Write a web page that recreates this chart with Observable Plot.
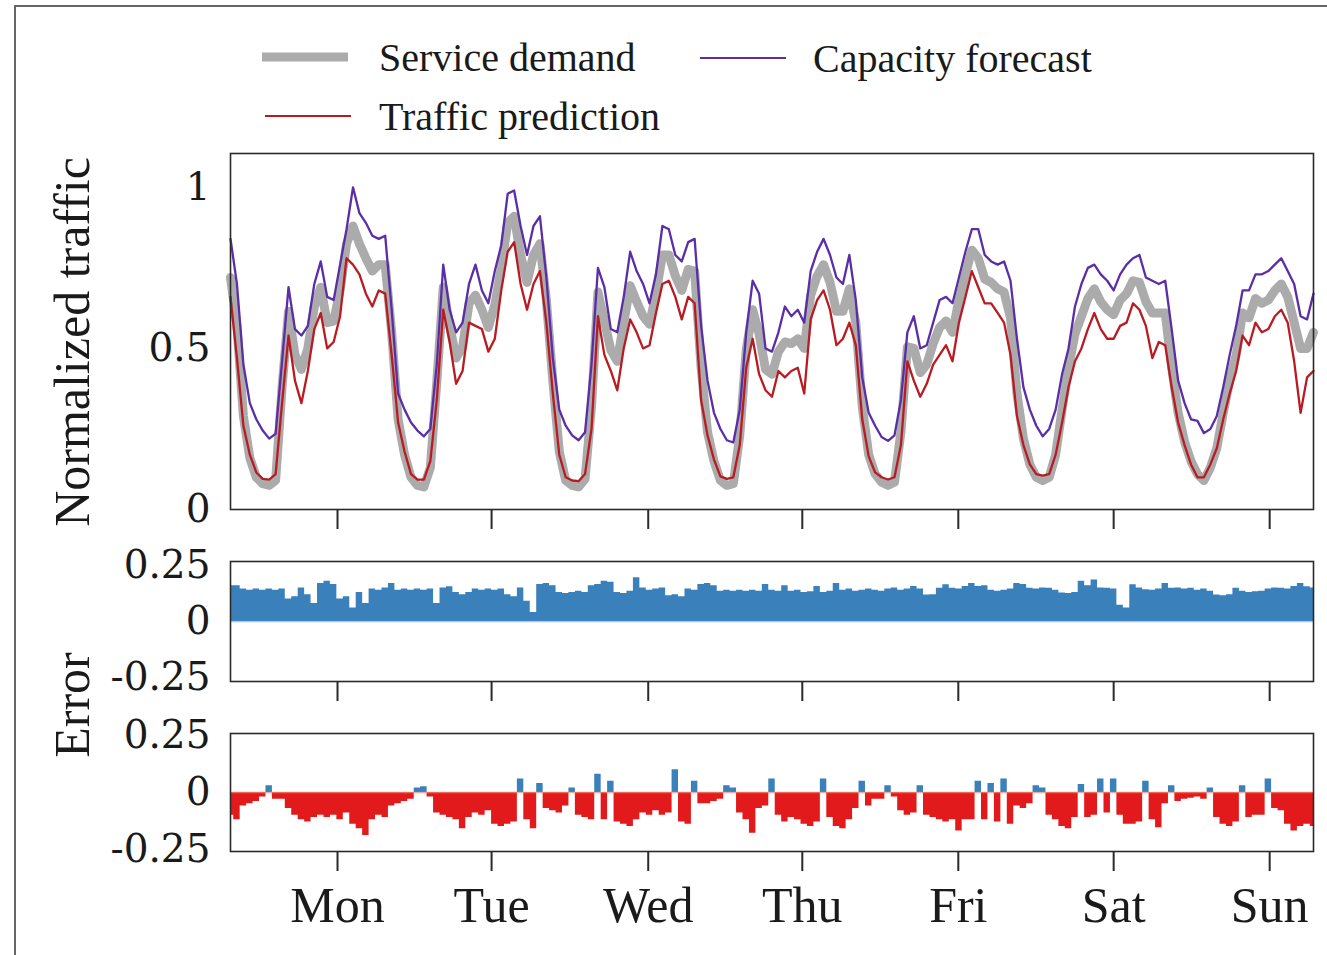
<!DOCTYPE html>
<html>
<head>
<meta charset="utf-8">
<script src="https://cdn.jsdelivr.net/npm/d3@7"></script>
<script src="https://cdn.jsdelivr.net/npm/@observablehq/plot@0.6"></script>
<style>
  html, body { margin: 0; padding: 0; background: #fff; }
  #fig { position: relative; width: 1327px; height: 955px; overflow: hidden; font-family: "Liberation Serif", serif; color: #1a1a1a; }
  #border { position: absolute; left: 14px; top: 5px; width: 1340px; height: 980px; border-top: 2px solid #666; border-left: 2px solid #666; }
  .panel { position: absolute; left: 0; }
  .ylab { position: absolute; left: 72px; font-size: 50px; white-space: nowrap; transform: translate(-50%, -50%) rotate(-90deg); }
</style>
</head>
<body>
<div id="fig">
  <div id="border"></div>
  <div id="legend" class="panel" style="top:0"></div>
  <div id="top" class="panel" style="top:143px"></div>
  <div id="mid" class="panel" style="top:551px"></div>
  <div id="bot" class="panel" style="top:723px"></div>
  <div class="ylab" style="top:342px">Normalized traffic</div>
  <div class="ylab" style="top:705px">Error</div>
</div>
<script>
// One week of hourly samples (hour 0 .. 168)
const hours = d3.range(0, 169);

// Day markers on the time axis (hour positions) and their names
const dayTicks = [16.6, 40.5, 64.8, 88.7, 112.9, 137.0, 161.2];
const dayNames = ["Mon", "Tue", "Wed", "Thu", "Fri", "Sat", "Sun"];

// Normalized service demand
const demand = [
  0.72, 0.57, 0.29, 0.16, 0.10, 0.08, 0.075, 0.09, 0.38, 0.615, 0.48, 0.435, 0.50, 0.63, 0.69, 0.58, 0.585, 0.68, 0.825, 0.88, 0.825, 0.78, 0.74, 0.76,
  0.76, 0.55, 0.28, 0.17, 0.10, 0.075, 0.07, 0.13, 0.395, 0.69, 0.57, 0.47, 0.505, 0.64, 0.665, 0.62, 0.565, 0.635, 0.75, 0.89, 0.91, 0.79, 0.705, 0.79,
  0.825, 0.65, 0.40, 0.18, 0.09, 0.075, 0.07, 0.095, 0.32, 0.675, 0.585, 0.495, 0.46, 0.58, 0.695, 0.645, 0.60, 0.575, 0.67, 0.79, 0.79, 0.725, 0.68, 0.745,
  0.74, 0.44, 0.24, 0.15, 0.09, 0.075, 0.08, 0.23, 0.495, 0.62, 0.545, 0.435, 0.42, 0.49, 0.52, 0.515, 0.53, 0.50, 0.665, 0.725, 0.76, 0.705, 0.615, 0.615,
  0.685, 0.58, 0.32, 0.17, 0.11, 0.085, 0.075, 0.085, 0.24, 0.505, 0.50, 0.425, 0.45, 0.515, 0.565, 0.585, 0.55, 0.65, 0.73, 0.805, 0.78, 0.715, 0.705, 0.685,
  0.675, 0.595, 0.36, 0.22, 0.14, 0.10, 0.09, 0.10, 0.17, 0.31, 0.44, 0.545, 0.60, 0.655, 0.685, 0.645, 0.62, 0.605, 0.65, 0.67, 0.71, 0.705, 0.645, 0.61,
  0.61, 0.61, 0.44, 0.30, 0.21, 0.15, 0.11, 0.09, 0.13, 0.19, 0.30, 0.40, 0.48, 0.61, 0.595, 0.655, 0.64, 0.65, 0.68, 0.70, 0.66, 0.58, 0.50, 0.50,
  0.55
];

// Capacity forecast
const capacity = [
  0.84, 0.70, 0.45, 0.33, 0.28, 0.245, 0.22, 0.235, 0.46, 0.69, 0.56, 0.54, 0.57, 0.70, 0.77, 0.66, 0.65, 0.76, 0.87, 1.00, 0.92, 0.89, 0.85, 0.84,
  0.85, 0.62, 0.36, 0.31, 0.27, 0.245, 0.227, 0.25, 0.45, 0.76, 0.62, 0.55, 0.58, 0.70, 0.76, 0.68, 0.64, 0.74, 0.82, 0.98, 0.99, 0.88, 0.79, 0.88,
  0.91, 0.72, 0.47, 0.31, 0.26, 0.23, 0.215, 0.24, 0.45, 0.75, 0.69, 0.56, 0.55, 0.66, 0.80, 0.74, 0.70, 0.64, 0.73, 0.88, 0.87, 0.79, 0.77, 0.83,
  0.84, 0.57, 0.40, 0.30, 0.25, 0.215, 0.208, 0.31, 0.55, 0.71, 0.67, 0.50, 0.49, 0.55, 0.63, 0.60, 0.62, 0.58, 0.74, 0.80, 0.84, 0.79, 0.72, 0.70,
  0.79, 0.65, 0.41, 0.30, 0.26, 0.225, 0.213, 0.23, 0.34, 0.55, 0.60, 0.50, 0.51, 0.58, 0.65, 0.66, 0.64, 0.72, 0.80, 0.87, 0.87, 0.79, 0.77, 0.76,
  0.77, 0.71, 0.53, 0.38, 0.31, 0.26, 0.227, 0.25, 0.31, 0.42, 0.50, 0.63, 0.70, 0.75, 0.76, 0.73, 0.71, 0.68, 0.73, 0.76, 0.78, 0.79, 0.72, 0.71,
  0.70, 0.71, 0.56, 0.40, 0.33, 0.28, 0.275, 0.237, 0.25, 0.29, 0.38, 0.48, 0.57, 0.68, 0.68, 0.73, 0.73, 0.74, 0.76, 0.78, 0.74, 0.70, 0.60, 0.59,
  0.67
];

// Traffic prediction
const prediction = [
  0.66, 0.47, 0.26, 0.17, 0.115, 0.095, 0.093, 0.11, 0.33, 0.54, 0.40, 0.33, 0.43, 0.56, 0.61, 0.50, 0.52, 0.60, 0.78, 0.76, 0.73, 0.67, 0.63, 0.68,
  0.67, 0.48, 0.27, 0.18, 0.11, 0.093, 0.093, 0.15, 0.34, 0.62, 0.52, 0.39, 0.43, 0.58, 0.57, 0.56, 0.49, 0.53, 0.68, 0.80, 0.83, 0.70, 0.62, 0.70,
  0.74, 0.58, 0.36, 0.17, 0.10, 0.09, 0.088, 0.11, 0.25, 0.60, 0.48, 0.43, 0.37, 0.50, 0.59, 0.55, 0.50, 0.51, 0.61, 0.70, 0.71, 0.66, 0.59, 0.66,
  0.64, 0.34, 0.23, 0.155, 0.103, 0.095, 0.10, 0.20, 0.44, 0.53, 0.42, 0.37, 0.35, 0.43, 0.41, 0.43, 0.44, 0.36, 0.59, 0.65, 0.68, 0.62, 0.51, 0.53,
  0.58, 0.51, 0.28, 0.165, 0.115, 0.10, 0.093, 0.10, 0.20, 0.46, 0.40, 0.35, 0.39, 0.45, 0.48, 0.51, 0.46, 0.58, 0.66, 0.74, 0.69, 0.64, 0.64, 0.61,
  0.58, 0.48, 0.29, 0.20, 0.14, 0.11, 0.105, 0.11, 0.17, 0.27, 0.38, 0.46, 0.50, 0.56, 0.61, 0.56, 0.53, 0.53, 0.57, 0.58, 0.64, 0.62, 0.57, 0.47,
  0.52, 0.51, 0.38, 0.27, 0.20, 0.14, 0.10, 0.10, 0.14, 0.19, 0.28, 0.36, 0.43, 0.54, 0.51, 0.58, 0.55, 0.56, 0.60, 0.62, 0.58, 0.46, 0.30, 0.41,
  0.43
];

// Error of the capacity forecast
const capacityError = [
  0.16, 0.16, 0.145, 0.14, 0.145, 0.14, 0.145, 0.14, 0.145, 0.10, 0.11, 0.15, 0.12, 0.08, 0.17, 0.18, 0.165, 0.10, 0.11, 0.06, 0.13, 0.08, 0.145, 0.14,
  0.15, 0.17, 0.14, 0.145, 0.14, 0.145, 0.14, 0.145, 0.08, 0.15, 0.155, 0.13, 0.12, 0.13, 0.145, 0.14, 0.145, 0.14, 0.145, 0.12, 0.11, 0.15, 0.09, 0.04,
  0.165, 0.17, 0.16, 0.13, 0.125, 0.13, 0.135, 0.13, 0.16, 0.165, 0.18, 0.175, 0.13, 0.125, 0.135, 0.195, 0.15, 0.14, 0.145, 0.15, 0.115, 0.12, 0.11, 0.145,
  0.14, 0.165, 0.17, 0.16, 0.135, 0.14, 0.135, 0.14, 0.135, 0.14, 0.135, 0.165, 0.14, 0.135, 0.16, 0.135, 0.14, 0.13, 0.133, 0.156, 0.13, 0.135, 0.17, 0.14,
  0.145, 0.135, 0.14, 0.145, 0.14, 0.135, 0.145, 0.15, 0.14, 0.145, 0.156, 0.145, 0.118, 0.12, 0.148, 0.164, 0.148, 0.145, 0.156, 0.17, 0.156, 0.16, 0.14, 0.135,
  0.14, 0.145, 0.17, 0.165, 0.148, 0.145, 0.15, 0.148, 0.14, 0.127, 0.125, 0.13, 0.18, 0.16, 0.185, 0.15, 0.148, 0.145, 0.073, 0.06, 0.164, 0.15, 0.142, 0.14,
  0.145, 0.17, 0.148, 0.15, 0.145, 0.148, 0.14, 0.145, 0.135, 0.118, 0.115, 0.12, 0.148, 0.135, 0.13, 0.133, 0.135, 0.145, 0.15, 0.148, 0.145, 0.156, 0.17, 0.155,
  0.15
];

// Error of the traffic prediction
const predictionError = [
  -0.10, -0.12, -0.06, -0.05, -0.04, -0.02, 0.03, -0.03, -0.03, -0.07, -0.10, -0.12, -0.13, -0.11, -0.10, -0.11, -0.10, -0.12, -0.09, -0.14, -0.16, -0.19, -0.12, -0.10,
  -0.11, -0.06, -0.05, -0.04, -0.03, 0.02, 0.025, -0.02, -0.09, -0.10, -0.11, -0.12, -0.16, -0.11, -0.09, -0.10, -0.08, -0.14, -0.15, -0.14, -0.13, 0.06, -0.12, -0.16,
  0.04, -0.07, -0.08, -0.09, -0.06, 0.02, -0.10, -0.11, -0.12, 0.08, -0.12, 0.05, -0.13, -0.14, -0.15, -0.12, -0.09, -0.10, -0.08, -0.10, -0.09, 0.10, -0.13, -0.14,
  0.05, -0.05, -0.05, -0.04, -0.03, 0.03, 0.02, -0.09, -0.12, -0.18, -0.07, -0.06, 0.06, -0.10, -0.13, -0.11, -0.12, -0.14, -0.15, -0.13, 0.06, -0.11, -0.15, -0.16,
  -0.12, -0.07, 0.05, -0.06, -0.03, -0.03, 0.03, -0.02, -0.08, -0.10, -0.09, 0.03, -0.10, -0.11, -0.12, -0.13, -0.12, -0.17, -0.12, -0.12, 0.05, -0.12, 0.04, -0.13,
  0.06, -0.14, -0.06, -0.07, -0.05, 0.03, 0.02, -0.10, -0.12, -0.15, -0.16, -0.11, 0.035, -0.11, -0.10, 0.06, -0.09, 0.06, -0.10, -0.14, -0.14, -0.13, 0.05, -0.12,
  -0.155, -0.05, 0.03, -0.04, -0.03, -0.025, -0.02, -0.03, 0.02, -0.11, -0.14, -0.15, -0.13, 0.03, -0.11, -0.10, -0.10, 0.06, -0.07, -0.08, -0.14, -0.17, -0.15, -0.14,
  -0.15
];

const series = [
  { name: "Service demand", color: "#ababab", width: 9 },
  { name: "Capacity forecast", color: "#5a2ea6", width: 2.3 },
  { name: "Traffic prediction", color: "#b81c22", width: 2.3 }
];
const errPos = "#3a80bb";
const errNeg = "#e31a1c";

const rows = hours.map((h, i) => ({
  h,
  demand: demand[i],
  capacity: capacity[i],
  prediction: prediction[i],
  capErr: capacityError[i],
  predErr: predictionError[i]
}));

const W = 1327, ML = 230, MR = 14;
const tickFont = "DejaVu Serif";
const ink = "#1a1a1a";

function frameAndTicks(labels) {
  return [
    Plot.frame({ stroke: "#2a2a2a", strokeWidth: 1.6 }),
    Plot.axisX({
      ticks: dayTicks,
      tickSize: 20,
      tickPadding: 15,
      stroke: "#2a2a2a",
      strokeWidth: 2,
      fill: ink,
      fontSize: 50,
      fontFamily: "Liberation Serif",
      label: null,
      tickFormat: labels ? (d => dayNames[dayTicks.indexOf(d)]) : (() => "")
    })
  ];
}

function yAxis(ticks) {
  return Plot.axisY({
    ticks,
    tickSize: 0,
    tickPadding: 20,
    fontSize: 39,
    fontFamily: tickFont,
    fill: ink,
    label: null,
    tickFormat: d => (d === 0 ? "0" : Math.abs(d) === 0.25 ? d.toFixed(2) : String(d))
  });
}

// Traffic panel
const trafficChart = Plot.plot({
  width: W, height: 396,
  marginLeft: ML, marginRight: MR, marginTop: 10, marginBottom: 30,
  style: { background: "transparent", overflow: "visible" },
  x: { domain: [0, 168], axis: null },
  y: { domain: [0, 1.105], axis: null },
  marks: [
    Plot.line(rows, { x: "h", y: "demand", stroke: series[0].color, strokeWidth: series[0].width, strokeLinejoin: "round" }),
    Plot.line(rows, { x: "h", y: "capacity", stroke: series[1].color, strokeWidth: series[1].width }),
    Plot.line(rows, { x: "h", y: "prediction", stroke: series[2].color, strokeWidth: series[2].width }),
    yAxis([0, 0.5, 1]),
    ...frameAndTicks(false)
  ]
});
document.getElementById("top").append(trafficChart);

// Error panels: positive part in blue, negative part in red, one step per hour
function errorPanel(key, height, domain, mB, labels, zeroColor) {
  return Plot.plot({
    width: W, height,
    marginLeft: ML, marginRight: MR, marginTop: 10, marginBottom: mB,
    style: { background: "transparent", overflow: "visible" },
    x: { domain: [0, 168], axis: null },
    y: { domain, axis: null },
    marks: [
      Plot.areaY(rows, { x: "h", y: r => Math.max(0, r[key]), fill: errPos, curve: "step" }),
      Plot.areaY(rows, { x: "h", y: r => Math.min(0, r[key]), fill: errNeg, curve: "step" }),
      Plot.ruleY([0], { stroke: zeroColor, strokeWidth: 1.5, strokeOpacity: 0.7 }),
      yAxis([-0.25, 0, 0.25]),
      ...frameAndTicks(labels)
    ]
  });
}

document.getElementById("mid").append(errorPanel("capErr", 160, [-0.268, 0.268], 30, false, "#7fb2dd"));
document.getElementById("bot").append(errorPanel("predErr", 220, [-0.26, 0.26], 92, true, "#f08a70"));

// Legend above the chart
const legendItems = [
  { s: series[0], x: 262, y: 57, tx: 379 },
  { s: series[1], x: 700, y: 58, tx: 813 },
  { s: series[2], x: 265, y: 116, tx: 379 }
];
const lg = d3.select("#legend").append("svg").attr("width", W).attr("height", 145);
for (const it of legendItems) {
  lg.append("line")
    .attr("x1", it.x).attr("x2", it.x + 86)
    .attr("y1", it.y).attr("y2", it.y)
    .attr("stroke", it.s.color)
    .attr("stroke-width", it.s.width > 4 ? 9 : 2.2);
  lg.append("text")
    .attr("x", it.tx)
    .attr("y", it.y + 14)
    .attr("font-family", "Liberation Serif")
    .attr("font-size", 40)
    .attr("fill", ink)
    .text(it.s.name);
}
</script>
</body>
</html>
